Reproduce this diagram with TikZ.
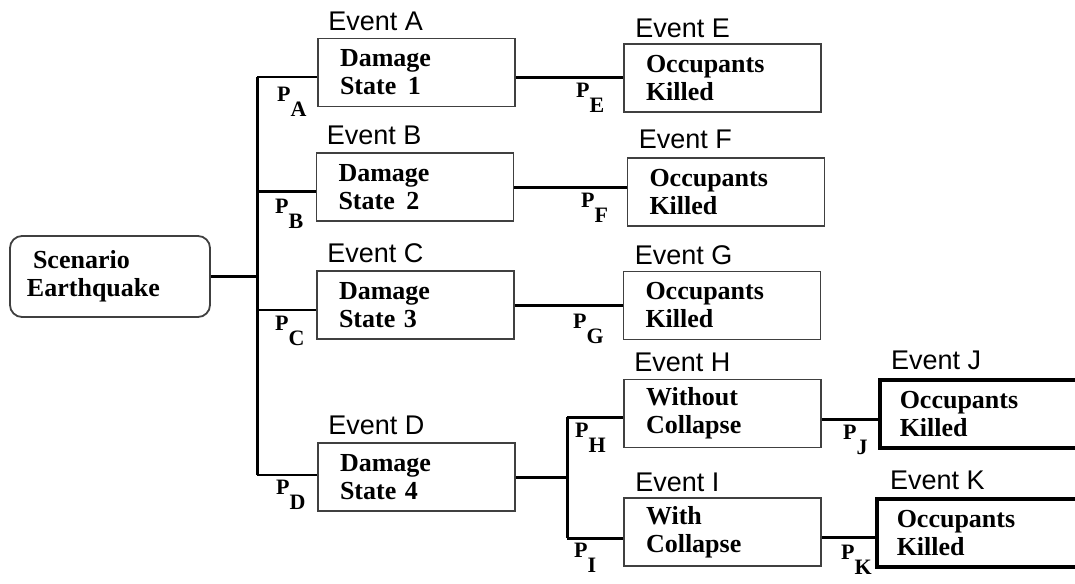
\documentclass[tikz,border=0pt]{standalone}
\usepackage{fontspec}
\setmainfont{Liberation Serif}
\newfontfamily\evfont{Liberation Sans}
\usetikzlibrary{positioning}

\newcommand{\Pof}[1]{P\raisebox{-0.68em}{#1}}

\begin{document}
\begin{tikzpicture}[x=1pt,y=-1pt,
    state/.style={draw=black!75, line width=1.8pt, minimum height=68pt, inner xsep=22pt,
      text width=153pt, align=left, font=\bfseries\fontsize{26}{28}\selectfont},
    outcome/.style={state, draw=black, line width=3.5pt, text width=200pt, inner xsep=20pt, anchor=west},
    root/.style={state, rounded corners=12pt, minimum height=81pt, text width=166pt, inner xsep=17pt},
    ev/.style={inner sep=0pt, font=\evfont\fontsize{27}{27}\selectfont},
    prob/.style={inner sep=0pt, anchor=north west, font=\bfseries\fontsize{22}{22}\selectfont},
    branch/.style={line width=2.2pt},
    trunk/.style={line width=3pt}]
      \useasboundingbox (0,0) rectangle (1075,583);

      \node[root] (scen) at (110,276.5) {\hspace*{6pt}Scenario\\Earthquake};

      \node[state] (A) at (416.5,72.5) {Damage\\State\hspace{0.45em}1};
      \node[state] (B) at (415,187) {Damage\\State\hspace{0.45em}2};
      \node[state] (C) at (415.5,305) {Damage\\State 3};
      \node[state] (D) at (416.5,477) {Damage\\State 4};
      \node[state] (E) at (722.5,78) {Occupants\\Killed};
      \node[state] (F) at (726,192) {Occupants\\Killed};
      \node[state] (G) at (722,305.5) {Occupants\\Killed};
      \node[state] (H) at (722.5,413.5) {Without\\Collapse};
      \node[state] (I) at (722.5,532) {With\\Collapse};
      \node[outcome] (J) at (878,414) {Occupants\\Killed};
      \node[outcome] (K) at (875,533) {Occupants\\Killed};

      \node[ev, above right=7pt and 11pt of A.north west] (evA) {Event A};
      \node[ev, above right=7pt and 11pt of B.north west] (evB) {Event B};
      \node[ev, above right=7pt and 11pt of C.north west] (evC) {Event C};
      \node[ev, above right=7pt and 11pt of D.north west] (evD) {Event D};
      \node[ev, above right=5pt and 12pt of E.north west] (evE) {Event E};
      \node[ev, above right=8pt and 12pt of F.north west] (evF) {Event F};
      \node[ev, above right=6pt and 12pt of G.north west] (evG) {Event G};
      \node[ev, above right=7pt and 11pt of H.north west] (evH) {Event H};
      \node[ev, above right=5pt and 12pt of I.north west] (evI) {Event I};
      \node[ev, above right=8pt and 13pt of J.north west] (evJ) {Event J};
      \node[ev, above right=7pt and 15pt of K.north west] (evK) {Event K};

      \coordinate (tA) at (257,77);
      \coordinate (tB) at (257,191);
      \coordinate (tC) at (257,310);
      \coordinate (tD) at (257,475);
      \coordinate (tH) at (567,417);
      \coordinate (tI) at (567,538);

      \draw[branch] (scen.east) -- (scen.east -| tA);
      \draw[trunk] (tA) -- (tD);
      \draw[branch] (tA) -- (tA -| A.west);
      \draw[trunk] (tB) -- (tB -| B.west);
      \draw[branch] (tC) -- (tC -| C.west);
      \draw[branch] (tD) -- (tD -| D.west);

      \draw[trunk] (E.west -| A.east) -- (E.west);
      \draw[trunk] (B.east) -- (B.east -| F.west);
      \draw[trunk] (C.east) -- (C.east -| G.west);
      \draw[trunk] (D.east) -- (D.east -| tH);
      \draw[trunk] (tH) -- (tI);
      \draw[trunk] (tH) -- (tH -| H.west);
      \draw[trunk] (tI) -- (tI -| I.west);
      \draw[trunk] ([yshift=-6pt]H.east) -- ([yshift=-6pt]H.east -| J.west);
      \draw[trunk] ([yshift=-5pt]I.east) -- ([yshift=-5pt]I.east -| K.west);

      \node[prob] (pA) at (277,87) {\Pof{A}};
      \node[prob] (pB) at (275,199) {\Pof{B}};
      \node[prob] (pC) at (275,316) {\Pof{C}};
      \node[prob] (pD) at (276,480) {\Pof{D}};
      \node[prob] (pE) at (576,83) {\Pof{E}};
      \node[prob] (pF) at (581,193) {\Pof{F}};
      \node[prob] (pG) at (573,314) {\Pof{G}};
      \node[prob] (pH) at (575,423) {\Pof{H}};
      \node[prob] (pI) at (574,543) {\Pof{I}};
      \node[prob] (pJ) at (843,425) {\Pof{J}};
      \node[prob] (pK) at (841,545) {\Pof{K}};
    \end{tikzpicture}
\end{document}
